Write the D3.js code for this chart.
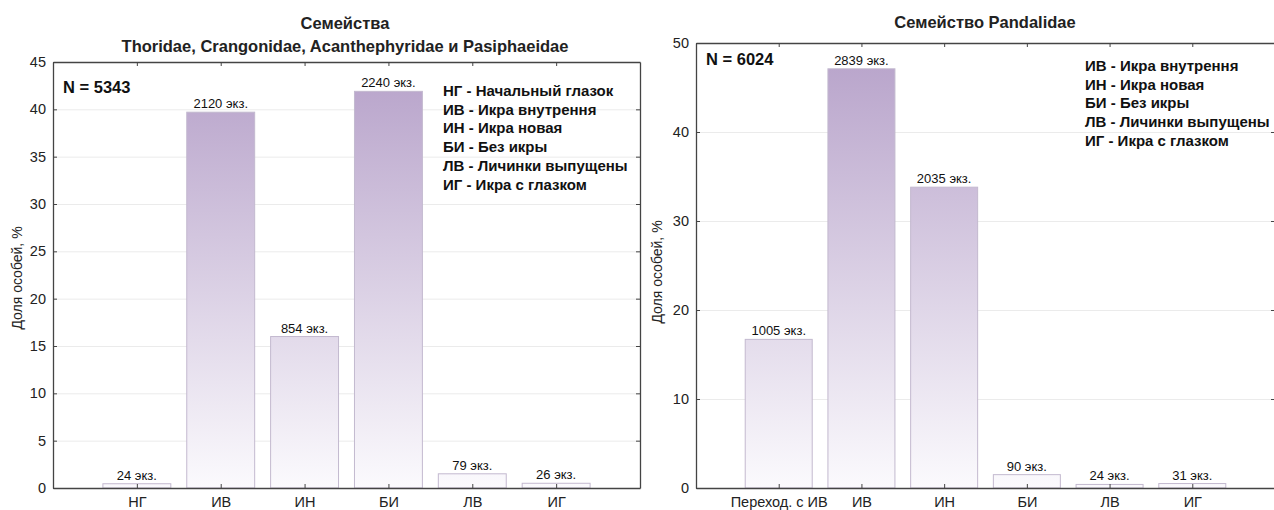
<!DOCTYPE html>
<html>
<head>
<meta charset="utf-8">
<script src="https://cdn.jsdelivr.net/npm/d3@7"></script>
<style>
  body { margin: 0; background: #fff; }
  svg { display: block; font-family: "Liberation Sans", Arial, sans-serif; }
  .tick text { fill: #222; }
</style>
</head>
<body>
<div id="chart"></div>
<script>
// left panel data
let leftCats = ["НГ", "ИВ", "ИН", "БИ", "ЛВ", "ИГ"]
let leftPct = [0.45, 39.7, 16.0, 41.9, 1.5, 0.5]
let leftCounts = ["24 экз.", "2120 экз.", "854 экз.", "2240 экз.", "79 экз.", "26 экз."]
let leftTicks = [0, 5, 10, 15, 20, 25, 30, 35, 40, 45]
let leftLegend = ["НГ - Начальный глазок", "ИВ - Икра внутрення", "ИН - Икра новая",
                  "БИ - Без икры", "ЛВ - Личинки выпущены", "ИГ - Икра с глазком"]

// right panel data
let rightCats = ["Переход. с ИВ", "ИВ", "ИН", "БИ", "ЛВ", "ИГ"]
let rightPct = [16.7, 47.1, 33.8, 1.5, 0.4, 0.5]
let rightCounts = ["1005 экз.", "2839 экз.", "2035 экз.", "90 экз.", "24 экз.", "31 экз."]
let rightTicks = [0, 10, 20, 30, 40, 50]
let rightLegend = ["ИВ - Икра внутрення", "ИН - Икра новая", "БИ - Без икры",
                   "ЛВ - Личинки выпущены", "ИГ - Икра с глазком"]

let width = 1274
let height = 510

let svg = d3.select("#chart").append("svg")
    .attr("width", width)
    .attr("height", height)

let defs = svg.append("defs")

function drawPanel(p){
    let x = d3.scaleLinear().domain([0, 7]).range([p.x0, p.x1])
    let y = d3.scaleLinear().domain([0, p.yMax]).range([p.y1, p.y0])
    let step = x(1) - x(0)
    let barW = step * 0.81

    // gradient spans the whole plot height
    let grad = defs.append("linearGradient")
        .attr("id", p.id + "-grad")
        .attr("gradientUnits", "userSpaceOnUse")
        .attr("x1", 0).attr("x2", 0)
        .attr("y1", p.y0).attr("y2", p.y1)
    grad.append("stop").attr("offset", "0%").attr("stop-color", "#b6a1c9")
    grad.append("stop").attr("offset", "100%").attr("stop-color", "#fbfafd")

    let g = svg.append("g")

    // grid
    g.append("g").selectAll("line")
        .data(p.ticks.slice(1, -1))
        .join("line")
        .attr("x1", p.x0).attr("x2", p.x1)
        .attr("y1", d => y(d) + 0.5).attr("y2", d => y(d) + 0.5)
        .attr("stroke", "#ebebeb")

    // bars
    g.append("g").selectAll("rect")
        .data(p.values)
        .join("rect")
        .attr("x", (d, i) => x(i + 1) - barW / 2)
        .attr("y", d => y(d))
        .attr("width", barW)
        .attr("height", d => y(0) - y(d))
        .attr("fill", "url(#" + p.id + "-grad)")
        .attr("stroke", "#c3b9cf")
        .attr("stroke-width", 1)

    // count labels
    g.append("g").selectAll("text")
        .data(p.values)
        .join("text")
        .attr("x", (d, i) => x(i + 1))
        .attr("y", d => y(d) - 4)
        .attr("text-anchor", "middle")
        .attr("font-size", "13px")
        .attr("fill", "#111")
        .text((d, i) => p.counts[i])

    // axes
    let xAxis = d3.axisBottom(x)
        .tickValues(d3.range(1, 7))
        .tickFormat(i => p.cats[i - 1])
        .tickSizeInner(-4).tickSizeOuter(0).tickPadding(9)
    let xa = g.append("g").attr("transform", `translate(0,${p.y1})`).call(xAxis)

    let xTop = d3.axisTop(x).tickValues(d3.range(1, 7)).tickFormat("")
        .tickSizeInner(-4).tickSizeOuter(0)
    let xt = g.append("g").attr("transform", `translate(0,${p.y0})`).call(xTop)

    let yAxis = d3.axisLeft(y).tickValues(p.ticks)
        .tickSizeInner(-4).tickSizeOuter(0).tickPadding(7)
    let ya = g.append("g").attr("transform", `translate(${p.x0},0)`).call(yAxis)

    let yRight = d3.axisRight(y).tickValues(p.ticks).tickFormat("")
        .tickSizeInner(-4).tickSizeOuter(0)
    let yr = g.append("g").attr("transform", `translate(${p.x1},0)`).call(yRight)

    for (let a of [xa, xt, ya, yr]){
        a.selectAll("path").attr("stroke", "#444").attr("stroke-width", 1.3)
        a.selectAll("line").attr("stroke", "#444")
        a.selectAll("text").attr("font-size", "14.5px").attr("font-family", "Liberation Sans, Arial, sans-serif")
    }

    // y title
    g.append("text")
        .attr("transform", `translate(${p.yTitleX},${p.yTitleY}) rotate(-90)`)
        .attr("text-anchor", "middle")
        .attr("font-size", "14px")
        .attr("fill", "#222")
        .text("Доля особей, %")

    // title
    g.append("g").selectAll("text")
        .data(p.title)
        .join("text")
        .attr("x", p.titleX)
        .attr("y", (d, i) => p.titleY + i * 23)
        .attr("text-anchor", "middle")
        .attr("font-size", "16.5px")
        .attr("font-weight", "bold")
        .attr("fill", "#222")
        .text(d => d)

    // N label
    g.append("text")
        .attr("x", p.x0 + 10).attr("y", p.nY)
        .attr("font-size", "16.5px")
        .attr("font-weight", "bold")
        .attr("fill", "#111")
        .text(p.n)

    // legend
    g.append("g").selectAll("text")
        .data(p.legend)
        .join("text")
        .attr("x", p.legX)
        .attr("y", (d, i) => p.legY + i * p.legStep)
        .attr("font-size", "15px")
        .attr("font-weight", "bold")
        .attr("fill", "#111")
        .text(d => d)
}

drawPanel({
    id: "left", x0: 53, x1: 640, y0: 62, y1: 488, yMax: 45,
    cats: leftCats, values: leftPct, counts: leftCounts, ticks: leftTicks,
    legend: leftLegend, legX: 443, legY: 96, legStep: 18.7,
    title: ["Семейства", "Thoridae, Crangonidae, Acanthephyridae и Pasiphaeidae"],
    titleX: 345, titleY: 29, n: "N = 5343", nY: 93, yTitleX: 22, yTitleY: 278
})

drawPanel({
    id: "right", x0: 696, x1: 1275, y0: 43, y1: 488, yMax: 50,
    cats: rightCats, values: rightPct, counts: rightCounts, ticks: rightTicks,
    legend: rightLegend, legX: 1085, legY: 71, legStep: 18.7,
    title: ["Семейство Pandalidae"],
    titleX: 985, titleY: 28, n: "N = 6024", nY: 65, yTitleX: 662, yTitleY: 272
})
</script>
</body>
</html>
